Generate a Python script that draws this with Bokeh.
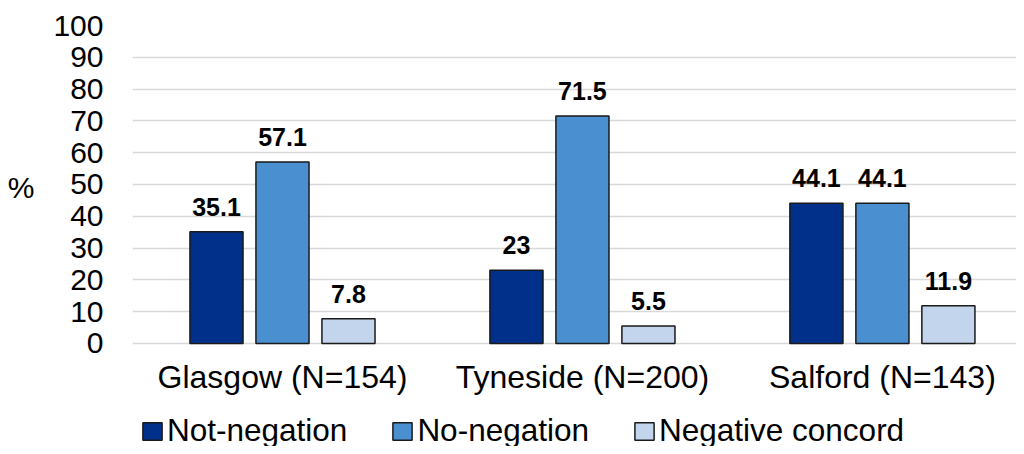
from bokeh.plotting import figure
from bokeh.models import ColumnDataSource, Range1d, FixedTicker, Legend, LegendItem, LabelSet, LinearAxis
from bokeh.embed import file_html
from bokeh.resources import INLINE
from bokeh.core.properties import value

categories = ["Glasgow (N=154)", "Tyneside (N=200)", "Salford (N=143)"]
series = ["Not-negation", "No-negation", "Negative concord"]
not_negation = [35.1, 23, 44.1]
no_negation = [57.1, 71.5, 44.1]
negative_concord = [7.8, 5.5, 11.9]
y_ticks = list(range(0, 101, 10))
y_title = "%"

colors = ["#00308a", "#4a8fd0", "#c3d5ec"]
offsets = [-0.22, 0.0, 0.22]
bar_w = 0.177
FONT = "Liberation Sans"

# frame spans from the 100 line down to the bottom edge (room for category labels and legend)
p = figure(width=1016, height=446, output_backend="svg", toolbar_location=None,
           x_range=Range1d(-0.5, 2.447), y_range=Range1d(-32.4, 100))
p.min_border_left = 132
p.min_border_right = 0
p.min_border_top = 25
p.min_border_bottom = 0
p.outline_line_color = None
p.background_fill_color = "white"
p.border_fill_color = "white"

renderers = []
for vals, col, off, name in zip([not_negation, no_negation, negative_concord], colors, offsets, series):
    src = ColumnDataSource(dict(x=[i + off for i in range(len(categories))], top=vals,
                                lab=[("%g" % v) for v in vals]))
    r = p.vbar(x="x", top="top", width=bar_w, bottom=0, source=src,
               fill_color=col, line_color="#1a1a1a", line_width=1.5)
    renderers.append((name, r))
    labels = LabelSet(x="x", y="top", text="lab", source=src, text_align="center",
                      text_baseline="alphabetic", y_offset=16,
                      text_font=value(FONT), text_font_size="25px", text_font_style="bold",
                      text_color="#000000")
    p.add_layout(labels)

cat_src = ColumnDataSource(dict(x=list(range(len(categories))), y=[0] * len(categories), t=categories))
p.add_layout(LabelSet(x="x", y="y", text="t", source=cat_src, text_align="center",
                      text_baseline="alphabetic", y_offset=-45,
                      text_font=value(FONT), text_font_size="32px", text_color="#000000"))

p.xaxis.visible = False
p.xgrid.grid_line_color = None

p.yaxis.ticker = FixedTicker(ticks=y_ticks)
p.yaxis.axis_line_color = None
p.yaxis.major_tick_line_color = None
p.yaxis.major_tick_out = 0
p.yaxis.major_tick_in = 0
p.yaxis.minor_tick_line_color = None
p.yaxis.major_label_standoff = 29
p.yaxis.major_label_text_font = FONT
p.yaxis.major_label_text_font_size = "30px"
p.yaxis.major_label_text_color = "#000000"
p.ygrid.grid_line_color = "#d9d9d9"
p.ygrid.grid_line_width = 1.5

# "%" title placed beside the 50 mark via a second, label-only axis
title_axis = LinearAxis(ticker=FixedTicker(ticks=[49]), major_label_overrides={49: y_title},
                        axis_line_color=None, major_tick_line_color=None, minor_tick_line_color=None,
                        major_tick_out=0, major_tick_in=0, major_label_standoff=16,
                        major_label_text_font=FONT, major_label_text_font_size="30px",
                        major_label_text_color="#000000")
p.add_layout(title_axis, "left")

legend = Legend(items=[LegendItem(label=n, renderers=[r]) for n, r in renderers],
                orientation="horizontal", location=(8, -3),
                label_text_font=FONT, label_text_font_size="31.5px", label_text_color="#000000",
                glyph_width=24, glyph_height=22, label_standoff=3, spacing=43,
                padding=0, margin=0, border_line_color=None, background_fill_alpha=0,
                label_height=36)
p.add_layout(legend, "center")

open("out.html", "w").write(file_html(p, INLINE))
